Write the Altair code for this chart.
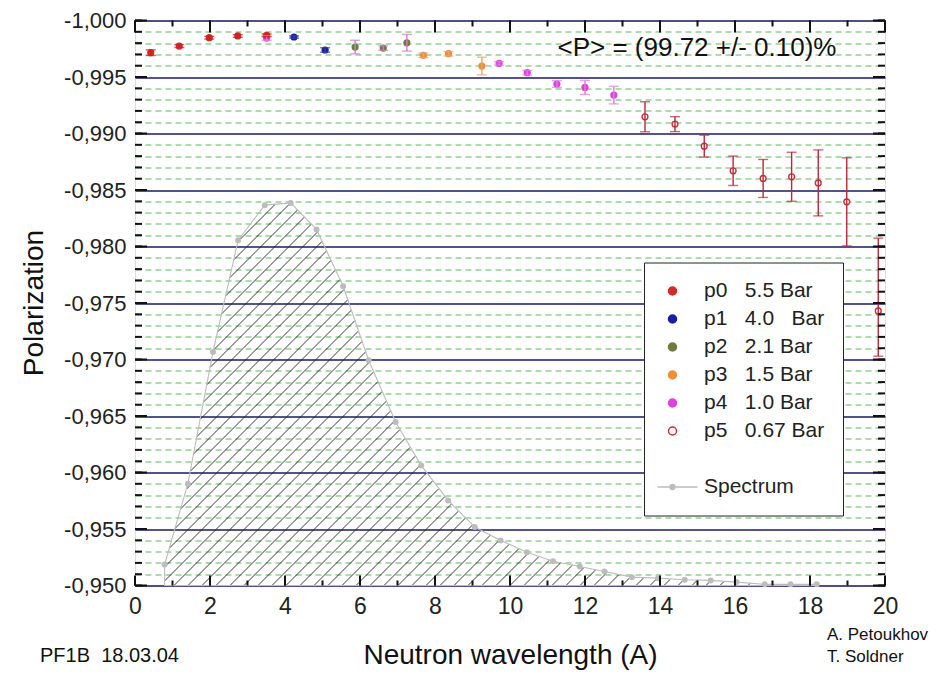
import altair as alt
import numpy as np
import pandas as pd

# ---------------- data ----------------
p0_x = [0.42, 1.18, 1.98, 2.74, 3.51]
p0_y = [-0.99715, -0.99774, -0.99848, -0.99863, -0.99869]
p0_e = [0.00025, 0.00013, 0.00012, 0.00012, 0.00012]

p1_x = [4.24, 5.07]
p1_y = [-0.99854, -0.99739]
p1_e = [0.00010, 0.00020]

p2_x = [5.87, 6.62, 7.25]
p2_y = [-0.99765, -0.99756, -0.99803]
p2_e = [0.00060, 0.00020, 0.00074]

p3_x = [7.69, 8.36, 9.25]
p3_y = [-0.99692, -0.99706, -0.99597]
p3_e = [0.00020, 0.00020, 0.00078]

p4_x = [3.51, 9.71, 10.46, 11.25, 12.00, 12.77]
p4_y = [-0.99845, -0.99621, -0.99538, -0.99438, -0.99408, -0.99340]
p4_e = [0.00020, 0.00015, 0.00020, 0.00030, 0.00062, 0.00078]

p5_x = [13.60, 14.40, 15.18, 15.95, 16.75, 17.51, 18.22, 18.98, 19.82]
p5_y = [-0.99148, -0.99083, -0.98888, -0.98670, -0.98602, -0.98617, -0.98563, -0.98395, -0.97430]
p5_e_up = [0.00133, 0.00066, 0.00097, 0.00130, 0.00168, 0.00217, 0.00292, 0.00390, 0.00644]
p5_e_dn = [0.00133, 0.00066, 0.00097, 0.00130, 0.00168, 0.00217, 0.00292, 0.00390, 0.00401]

spec_x = [0.79, 1.41, 2.08, 2.75, 3.46, 4.15, 4.84, 5.55, 6.23, 6.95, 7.63, 8.35, 9.06,
          9.75, 10.45, 11.15, 11.86, 12.52, 13.25, 13.95, 14.66, 15.35, 16.04, 16.79,
          17.48, 18.18]
spec_y = [-0.95186, -0.95901, -0.97067, -0.98056, -0.98366, -0.98386, -0.98151, -0.97648,
          -0.96993, -0.96447, -0.96063, -0.95753, -0.95517, -0.95399, -0.95295, -0.95215,
          -0.95168, -0.95124, -0.95074, -0.95065, -0.95051, -0.95045, -0.95030, -0.95010,
          -0.95010, -0.95010]

series_labels = ["p0\u00a0\u00a0\u00a05.5 Bar", "p1\u00a0\u00a0\u00a04.0\u00a0\u00a0\u00a0Bar",
                 "p2\u00a0\u00a0\u00a02.1 Bar", "p3\u00a0\u00a0\u00a01.5 Bar",
                 "p4\u00a0\u00a0\u00a01.0 Bar", "p5\u00a0\u00a0\u00a00.67 Bar"]
blank_label = "\u00a0"
spectrum_label = "Spectrum"

x_labels = list(range(0, 21, 2))
x_minor = list(range(0, 21))
y_all = [round(-1.0 + 0.001 * i, 3) for i in range(51)]
y_major = [v for v in y_all if round(abs(v) * 1000) % 5 == 0]

annotation = "<P> = (99.72 +/- 0.10)%"
credit_left = "PF1B\u00a0\u00a018.03.04"
credit_right_1 = "A. Petoukhov"
credit_right_2 = "T. Soldner"

# ---------------- styling ----------------
FONT = "Liberation Sans"
W, H = 750, 565
X_DOM = [0, 20]
Y_DOM = [-1.0, -0.95]
point_fill = ["#d42a2a", "#1c1ca8", "#6e7d3c", "#ec8f3a", "#e040e0", "#ffffff"]
point_stroke = ["#d42a2a", "#1c1ca8", "#6e7d3c", "#ec8f3a", "#e040e0", "#c8303c"]
err_color = ["#c82020", "#3a3aa8", "#d878c8", "#eca070", "#e07ce0", "#b82838"]
SPEC_COL = "#bcbcbc"

# ---------------- tables ----------------
rows = []
for k, (xs_, ys_, eu, ed) in enumerate([
        (p0_x, p0_y, p0_e, p0_e), (p1_x, p1_y, p1_e, p1_e), (p2_x, p2_y, p2_e, p2_e),
        (p3_x, p3_y, p3_e, p3_e), (p4_x, p4_y, p4_e, p4_e), (p5_x, p5_y, p5_e_up, p5_e_dn)]):
    for x, y, u, d in zip(xs_, ys_, eu, ed):
        rows.append({"series": series_labels[k], "x": x, "y": y,
                     "top": y - u, "bot": y + d, "ecol": err_color[k], "order": k})
pts = pd.DataFrame(rows)
pts["z"] = pts["order"].replace({4: -1})
pts = pts.sort_values("z")

spec = pd.DataFrame({"x": spec_x, "y": spec_y})


def hatch_segments(sx, sy, spacing=14.0, step=0.2):
    px = np.asarray(sx) / (X_DOM[1] - X_DOM[0]) * W
    py = (np.asarray(sy) - Y_DOM[0]) / (Y_DOM[1] - Y_DOM[0]) * H
    grid = np.arange(px[0], px[-1] + 1e-9, step)
    top = np.interp(grid, px, py)
    segs = []
    c0 = px[0] + py.min()
    c1 = px[-1] + H
    for C in np.arange(c0 - spacing, c1 + spacing, spacing):
        yl = C - grid
        inside = (yl >= top) & (yl <= H)
        if not inside.any():
            continue
        idx = np.where(inside)[0]
        breaks = np.where(np.diff(idx) > 1)[0]
        starts = np.concatenate([[idx[0]], idx[breaks + 1]])
        ends = np.concatenate([idx[breaks], [idx[-1]]])
        for s, e in zip(starts, ends):
            if e - s < 2:
                continue
            xa, xb = grid[s], grid[e]
            ya, yb = C - xa, C - xb
            segs.append({
                "x": xa / W * 20, "y": Y_DOM[0] + ya / H * 0.05,
                "x2": xb / W * 20, "y2": Y_DOM[0] + yb / H * 0.05})
    return pd.DataFrame(segs)


hatch = hatch_segments(spec_x, spec_y)

# ---------------- scales / axes ----------------
xs = alt.Scale(domain=X_DOM, nice=False, zero=False)
ys = alt.Scale(domain=Y_DOM, reverse=True, nice=False, zero=False)
major_test = "abs(round(datum.value * 1000)) % 5 == 0"

x_axis = alt.Axis(values=x_labels, ticks=False, domain=False, grid=False,
                  labelFontSize=23, labelPadding=10, labelFlush=False, labelColor="#222",
                  labelFont=FONT, title="Neutron wavelength (A)", titleFont=FONT,
                  titleFontSize=28, titleFontWeight="normal", titleX=375, titleY=70,
                  titleBaseline="middle", titleAlign="center", titleColor="#111")
y_axis = alt.Axis(values=y_all, ticks=False, domain=False, grid=True,
                  labelExpr=f"{major_test} ? '-' + replace(format(abs(datum.value), '.3f'), '.', ',') : ''",
                  labelFontSize=22, labelPadding=9, labelColor="#222", labelFont=FONT,
                  labelOverlap=False, labelBound=False,
                  gridColor={"condition": {"test": major_test, "value": "#1a1a66"}, "value": "#5cb85c"},
                  gridDash={"condition": {"test": major_test, "value": []}, "value": [6, 4]},
                  gridWidth={"condition": {"test": major_test, "value": 1.5}, "value": 1},
                  title="Polarization", titleFont=FONT, titleFontSize=28,
                  titleFontWeight="normal", titleAngle=270, titleX=-101, titleY=282,
                  titleBaseline="middle", titleAlign="center", titleColor="#111")


def X(field):
    return alt.X(field, scale=xs, axis=x_axis)


def Y(field):
    return alt.Y(field, scale=ys, axis=y_axis)


spec_path = "M-3.75,0H6.25M-0.6,0A0.6,0.6,0,1,1,0.6,0A0.6,0.6,0,1,1,-0.6,0Z"
leg_domain = series_labels + [blank_label, spectrum_label]
leg = alt.Legend(title=None, orient="none", legendX=509, legendY=242,
                 padding=18, strokeColor="#222", fillColor="#ffffff",
                 labelFont=FONT, labelFontSize=21, labelColor="#222", labelOffset=21,
                 rowPadding=6, symbolSize=64, symbolStrokeWidth=1.5, labelLimit=300)
fill_enc = alt.Fill("series:N", scale=alt.Scale(domain=leg_domain,
                    range=point_fill + ["transparent", SPEC_COL]), legend=leg)
stroke_enc = alt.Stroke("series:N", scale=alt.Scale(domain=leg_domain,
                        range=point_stroke + ["transparent", SPEC_COL]), legend=leg)
shape_enc = alt.Shape("series:N", scale=alt.Scale(domain=leg_domain,
                      range=["circle"] * 7 + [spec_path]), legend=leg)

# ---------------- layers ----------------
base_pts = alt.Chart(pts)

points = base_pts.mark_point(size=34, strokeWidth=1.4, opacity=1, fillOpacity=1).encode(
    x=X("x:Q"), y=Y("y:Q"),
    fill=fill_enc, stroke=stroke_enc, shape=shape_enc, order="z:Q")

err_rule = base_pts.mark_rule(strokeWidth=1.4).encode(
    x=X("x:Q"), y=Y("top:Q"), y2="bot:Q",
    color=alt.Color("ecol:N", scale=None))
cap_top = base_pts.mark_tick(orient="horizontal", size=10, thickness=1.4).encode(
    x=X("x:Q"), y=Y("top:Q"), color=alt.Color("ecol:N", scale=None))
cap_bot = base_pts.mark_tick(orient="horizontal", size=10, thickness=1.4).encode(
    x=X("x:Q"), y=Y("bot:Q"), color=alt.Color("ecol:N", scale=None))

hatch_layer = alt.Chart(hatch).mark_rule(color="#222222", strokeWidth=0.9).encode(
    x=X("x:Q"), y=Y("y:Q"), x2="x2:Q", y2="y2:Q")

spec_area = alt.Chart(spec).mark_area(fillOpacity=0, stroke=SPEC_COL, strokeWidth=1.1).encode(
    x=X("x:Q"), y=Y("y:Q"), y2=alt.datum(Y_DOM[1]))
spec_pts = alt.Chart(spec).mark_circle(size=36, color=SPEC_COL, opacity=1).encode(
    x=X("x:Q"), y=Y("y:Q"))

# inside ticks on the frame
ymaj = pd.DataFrame({"v": y_major})
ymin = pd.DataFrame({"v": y_all})
xmaj = pd.DataFrame({"v": x_labels})
xmin = pd.DataFrame({"v": x_minor})
tick_style = dict(color="#111", strokeWidth=2)
ticks = [
    alt.Chart(ymin).mark_rule(**tick_style).encode(y=Y("v:Q"), x=alt.value(0), x2=alt.value(7)),
    alt.Chart(ymaj).mark_rule(**tick_style).encode(y=Y("v:Q"), x=alt.value(0), x2=alt.value(12)),
    alt.Chart(ymin).mark_rule(**tick_style).encode(y=Y("v:Q"), x=alt.value(W), x2=alt.value(W - 7)),
    alt.Chart(ymaj).mark_rule(**tick_style).encode(y=Y("v:Q"), x=alt.value(W), x2=alt.value(W - 12)),
    alt.Chart(xmin).mark_rule(**tick_style).encode(x=X("v:Q"), y=alt.value(H), y2=alt.value(H - 5)),
    alt.Chart(xmaj).mark_rule(**tick_style).encode(x=X("v:Q"), y=alt.value(H), y2=alt.value(H - 10)),
    alt.Chart(xmin).mark_rule(**tick_style).encode(x=X("v:Q"), y=alt.value(0), y2=alt.value(6)),
    alt.Chart(xmaj).mark_rule(**tick_style).encode(x=X("v:Q"), y=alt.value(0), y2=alt.value(12)),
]


def text_layer(t, x, y, size, align):
    return alt.Chart(pd.DataFrame({"t": [t]})).mark_text(
        font=FONT, fontSize=size, align=align, baseline="middle", color="#111").encode(
        x=alt.value(x), y=alt.value(y), text="t:N")


texts = [
    text_layer(annotation, 562, 27.5, 26, "center"),
    text_layer(credit_left, -95, 635, 20, "left"),
    text_layer(credit_right_1, 692, 614, 17, "left"),
    text_layer(credit_right_2, 692, 636, 17, "left"),
]

chart = alt.layer(
    points, hatch_layer, spec_area, spec_pts, err_rule, cap_top, cap_bot,
    *ticks, *texts
).properties(
    width=W, height=H,
    autosize=alt.AutoSizeParams(type="none"),
    padding={"left": 127, "top": 12.5, "right": 50, "bottom": 84},
).configure_view(stroke="#111", strokeWidth=3).configure(font=FONT, background="white")

chart.save("out.html", embed_options={"renderer": "svg", "actions": False})
